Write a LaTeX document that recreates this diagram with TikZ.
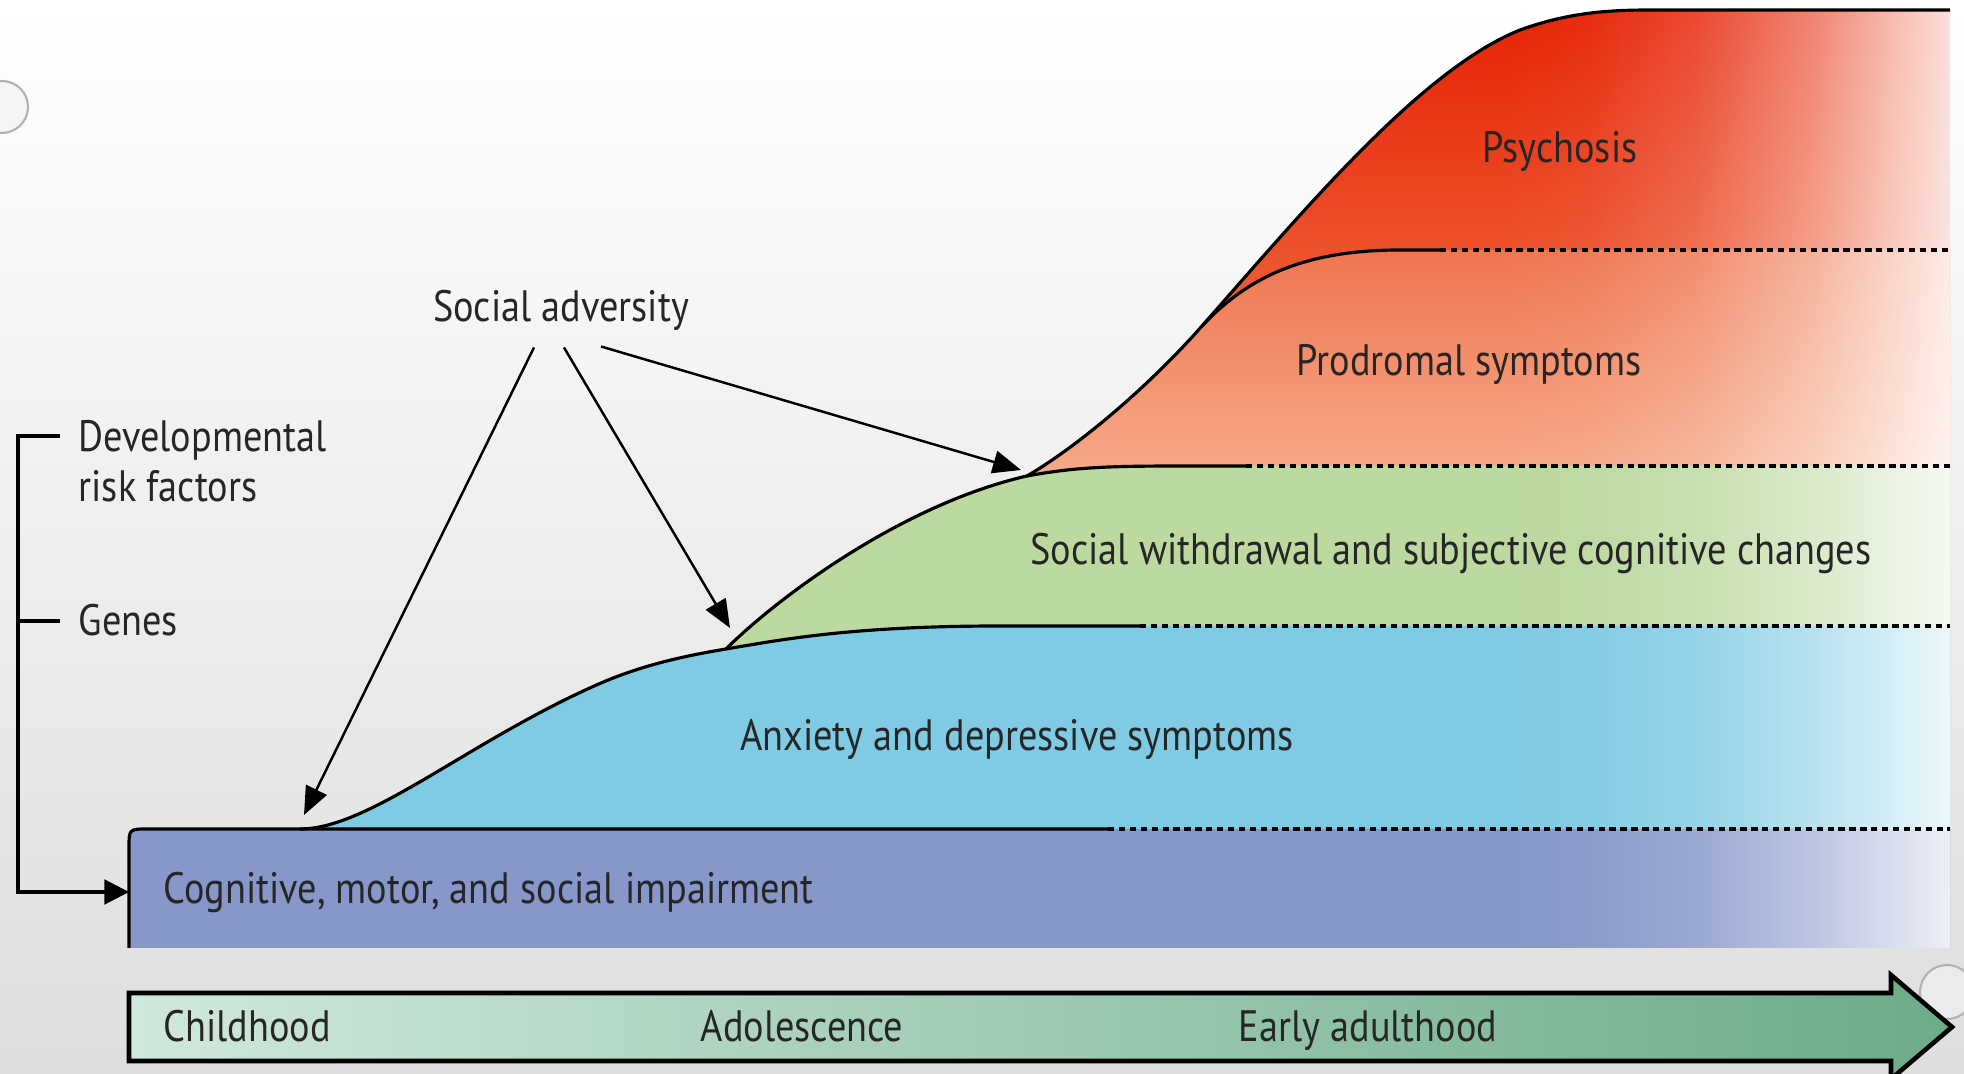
\documentclass[tikz,border=0pt]{standalone}
\usepackage{fontspec}
\setmainfont{PT Sans}[FakeStretch=0.87]
\usetikzlibrary{arrows.meta,calc,fadings}

\definecolor{impair}{HTML}{8797C9}
\definecolor{anxiety}{HTML}{7FCBE3}
\definecolor{withdraw}{HTML}{BCD9A0}
\definecolor{prodTop}{HTML}{EF7550}
\definecolor{prodBot}{HTML}{F6AA8A}
\definecolor{psyTop}{HTML}{E62205}
\definecolor{psyBot}{HTML}{EE6038}
\definecolor{timeL}{HTML}{D0E8DC}
\definecolor{timeR}{HTML}{6CAB88}
\definecolor{ink}{HTML}{262626}

% soft fade to the right edge
\pgfdeclarehorizontalshading{fadeshade}{100bp}{color(0bp)=(transparent!100);
  color(25bp)=(transparent!100); color(35bp)=(transparent!95); color(47bp)=(transparent!80);
  color(60bp)=(transparent!50); color(68bp)=(transparent!25); color(75bp)=(transparent!5);
  color(100bp)=(transparent!5)}
\pgfdeclarefading{faderight}{\pgfuseshading{fadeshade}}

\tikzset{
  lbl/.style={font=\fontsize{12.5}{14.2}\selectfont, text=ink, inner sep=0pt},
  edge/.style={line width=0.9pt, black},
  dashedge/.style={line width=1pt, black, dash pattern=on 1.8pt off 1.3pt},
  adv arrow/.style={line width=0.7pt, -{Triangle[length=8pt,width=6.5pt]}},
}

\begin{document}
\begin{tikzpicture}[x=0.01cm, y=-0.01cm]

  % slide background
  \shade[top color=white, bottom color=black!13] (0,0) rectangle (1964,1074);
  \useasboundingbox (0,0) rectangle (1964,1074);
  \filldraw[fill=black!4, draw=black!30, line width=0.6pt] (2,107) circle (26);
  \filldraw[fill=black!8, draw=black!30, line width=0.6pt] (1947,992) circle (27);

  % bands
  \shade[top color=psyTop, bottom color=psyBot]
    (1202,326) .. controls (1300,215) and (1420,70) .. (1520,30)
    .. controls (1570,12) and (1610,10) .. (1653,10) -- (1950,10) -- (1950,250)
    -- (1400,250) .. controls (1300,250) and (1245,280) .. (1202,326) -- cycle;
  \shade[top color=prodTop, bottom color=prodBot]
    (1027,476) .. controls (1080,445) and (1150,385) .. (1202,326)
    .. controls (1245,280) and (1300,250) .. (1400,250) -- (1950,250) -- (1950,466)
    -- (1200,466) .. controls (1120,466) and (1080,466) .. (1027,476) -- cycle;
  \fill[withdraw]
    (726,649) .. controls (775,600) and (900,505) .. (1027,476)
    .. controls (1080,466) and (1120,466) .. (1200,466) -- (1950,466) -- (1950,626)
    -- (1000,626) .. controls (850,626) and (780,640) .. (726,649) -- cycle;
  \fill[anxiety]
    (300,829) .. controls (370,829) and (470,740) .. (601,683)
    .. controls (643,665) and (684,656) .. (726,649)
    .. controls (780,640) and (850,626) .. (1000,626) -- (1950,626) -- (1950,829) -- cycle;
  \fill[impair] (129,948) -- (129,848) .. controls (129,829) .. (148,829)
    -- (1950,829) -- (1950,948) -- cycle;

  % fade towards the right
  \fill[white, path fading=faderight, fill opacity=0.9] (1500,10) rectangle (1950,948);

  % outlines
  \draw[edge] (129,948) -- (129,848) .. controls (129,829) .. (148,829) -- (1108,829);
  \draw[dashedge] (1108,829) -- (1950,829);
  \draw[edge] (300,829) .. controls (370,829) and (470,740) .. (601,683)
    .. controls (643,665) and (684,656) .. (726,649)
    .. controls (780,640) and (850,626) .. (1000,626) -- (1140,626);
  \draw[dashedge] (1140,626) -- (1950,626);
  \draw[edge] (726,649) .. controls (775,600) and (900,505) .. (1027,476)
    .. controls (1080,466) and (1120,466) .. (1200,466) -- (1246,466);
  \draw[dashedge] (1246,466) -- (1950,466);
  \draw[edge] (1202,326) .. controls (1245,280) and (1300,250) .. (1400,250) -- (1440,250);
  \draw[dashedge] (1440,250) -- (1950,250);
  \draw[edge] (1027,476) .. controls (1080,445) and (1150,385) .. (1202,326)
    .. controls (1300,215) and (1420,70) .. (1520,30)
    .. controls (1570,12) and (1610,10) .. (1653,10) -- (1950,10);

  % time axis
  \shade[left color=timeL, right color=timeR, draw=black, line width=1.3pt, line join=miter]
    (129,993) -- (1891,993) -- (1891,975) -- (1952,1027) -- (1891,1079)
    -- (1891,1061) -- (129,1061) -- cycle;
  \node[lbl, anchor=mid west] (child) at (163,1033) {Childhood};
  \node[lbl, anchor=mid] (adol) at (802,1033) {Adolescence};
  \node[lbl, anchor=mid] (early) at (1368,1033) {Early adulthood};

  % labels
  \node[lbl, anchor=mid west] (cog) at (163,895) {Cognitive, motor, and social impairment};
  \node[lbl, anchor=mid] (anx) at (1017,742) {Anxiety and depressive symptoms};
  \node[lbl, anchor=mid] (soc) at (1451,556) {Social withdrawal and subjective cognitive changes};
  \node[lbl, anchor=mid] (prod) at (1469,367) {Prodromal symptoms};
  \node[lbl, anchor=mid] (psy) at (1560,154) {Psychosis};
  \node[lbl, anchor=west, align=left] (dev) at (78,461) {Developmental\\risk factors};
  \node[lbl, anchor=mid west] (genes) at (78,627) {Genes};
  \node[lbl, anchor=mid] (adv) at (561,313) {Social adversity};

  % risk factor bracket
  \coordinate (devTick) at (60,436);
  \coordinate (genTick) at (60,621);
  \coordinate (brTop) at (18,436);
  \coordinate (brMid) at (18,621);
  \coordinate (brBot) at (18,892);
  \coordinate (cogIn) at (129,892);
  \draw[edge, -{Triangle[length=7pt,width=7pt]}] (devTick) -- (brTop) -- (brBot) -- (cogIn);
  \draw[edge] (brMid) -- (genTick);

  % social adversity arrows
  \coordinate (sa1) at ($(adv.south)+(-27,16)$);
  \coordinate (sa2) at ($(adv.south)+(3,16)$);
  \coordinate (sa3) at ($(adv.south)+(40,15)$);
  \coordinate (hitA) at (304,815);
  \coordinate (hitB) at (730,628);
  \coordinate (hitC) at (1021,470);
  \draw[adv arrow] (sa1) -- (hitA);
  \draw[adv arrow] (sa2) -- (hitB);
  \draw[adv arrow] (sa3) -- (hitC);

\end{tikzpicture}
\end{document}
